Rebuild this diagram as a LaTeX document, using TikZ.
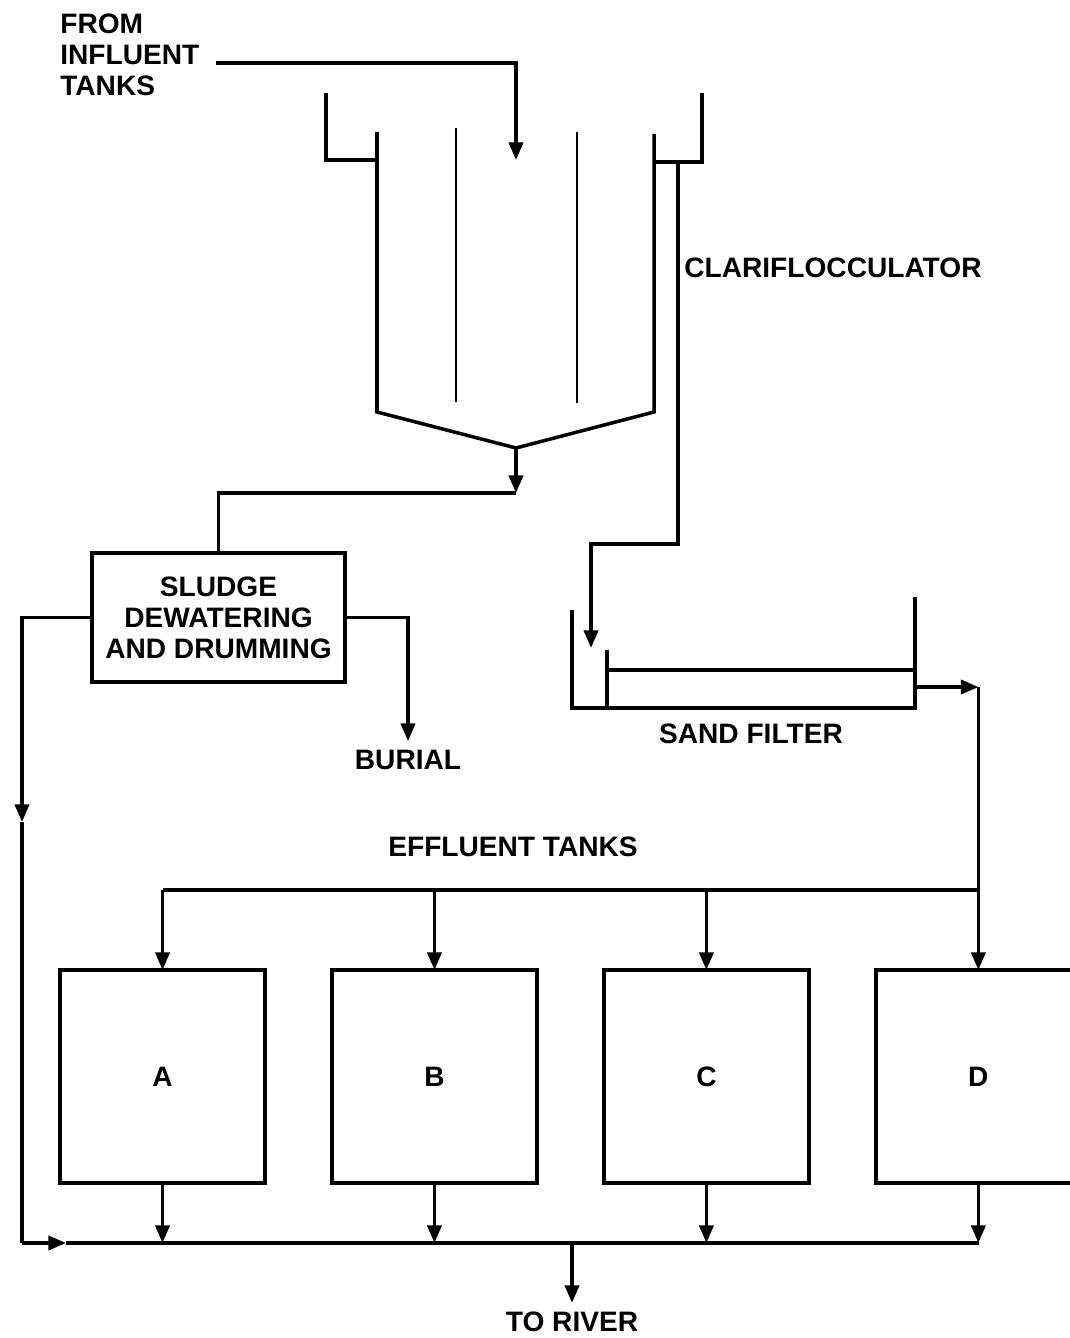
\documentclass[tikz,border=0pt]{standalone}
\usepackage{fontspec}
\setmainfont{Liberation Sans}
\usetikzlibrary{positioning, arrows.meta}

\begin{document}
\begin{tikzpicture}[
    x=0.02cm, y=-0.02cm,
    >={Triangle[length=10pt,width=8pt]},
    every node/.style={font=\bfseries\fontsize{16}{17.6}\selectfont},
    tank/.style={draw, line width=2pt, minimum width=4.1cm, minimum height=4.26cm, inner sep=0pt, outer sep=0pt},
    box/.style={draw, line width=2pt, minimum width=5.06cm, minimum height=2.58cm, align=center, inner sep=0pt},
    wall/.style={line width=2pt},
    baffle/.style={line width=1.3pt},
    pipe/.style={line width=2pt},
    arrow/.style={->, line width=2pt},
    label/.style={inner sep=0pt, align=center},
    sink/.style={inner sep=5pt, align=center},
]

\useasboundingbox (0,0) rectangle (1070,1338);

% ── Clarifier ──
\draw[wall] (326,93) -- (326,160) -- (377,160);
\draw[wall] (377,132) -- (377,412) -- (516,448) -- (654,412) -- (654,134);
\draw[wall] (654,162) -- (702,162) -- (702,93);
\draw[baffle] (456,128) -- (456,402);
\draw[baffle] (577,132) -- (577,403);
\coordinate (apex) at (516,448);
\coordinate (weir) at (678,162);
\coordinate (feed) at (516,160);

\node[label, anchor=west, align=left] (influent) at (60,55) {FROM\\INFLUENT\\TANKS};
\coordinate (inlet) at (216,63);
\node[label, anchor=west] (clari) at (684,268) {CLARIFLOCCULATOR};

% ── Sludge handling ──
\node[box] (sludge) at (218.5,617.5) {SLUDGE\\DEWATERING\\AND DRUMMING};
\node[sink] (burial) at (408,760) {BURIAL};
\coordinate (drain) at (516,493);
\coordinate (leftmid) at (22,822);
\coordinate (leftbot) at (22,1243);

% ── Sand filter ──
\draw[wall] (572,610) -- (572,708) -- (915,708) -- (915,597);
\draw[wall] (607,650) -- (607,708);
\draw[wall] (607,670) -- (915,670);
\node[label] (sand) at (751,734) {SAND FILTER};
\coordinate (turn) at (678,544);
\coordinate (filterin) at (591,648);
\coordinate (filterout) at (915,687);
\coordinate (outlet) at (978.5,687);
\coordinate (header) at (978.5,890);

% ── Effluent tanks ──
\node[label] (efflabel) at (513,847) {EFFLUENT TANKS};
\node[tank] (tankA) at (162.5,1076.5) {A};
\node[tank, right=1.34cm of tankA] (tankB) {B};
\node[tank, right=1.34cm of tankB] (tankC) {C};
\node[tank, right=1.34cm of tankC] (tankD) {D};

\coordinate (busin) at (66,1243);
\coordinate (busend) at (978.5,1243);
\coordinate (outfall) at (572,1243);
\node[sink] (river) at (572,1322) {TO RIVER};

% ── Arrows ──
\draw[arrow] (inlet) -| (feed);
\draw[arrow] (apex) -- (drain);
\draw[pipe] (drain) -| (sludge.north);

\draw[arrow] (sludge.east) -| (burial.north);
\draw[arrow] (sludge.west) -| (leftmid);
\draw[pipe] (leftmid) -- (leftbot);
\draw[arrow] (leftbot) -- (busin);
\draw[pipe] (busin) -- (busend);

\draw[arrow] (weir) -- (turn) -| (filterin);
\draw[arrow] (filterout) -- (outlet);
\draw[pipe] (outlet) -- (header);
\draw[pipe] (header) -- (tankA.north |- header);

\foreach \t in {A,B,C,D} {
  \draw[arrow] (tank\t.north |- header) -- (tank\t.north);
  \draw[arrow] (tank\t.south) -- (tank\t.south |- busend);
}

\draw[arrow] (outfall) -- (river.north);

\end{tikzpicture}
\end{document}
